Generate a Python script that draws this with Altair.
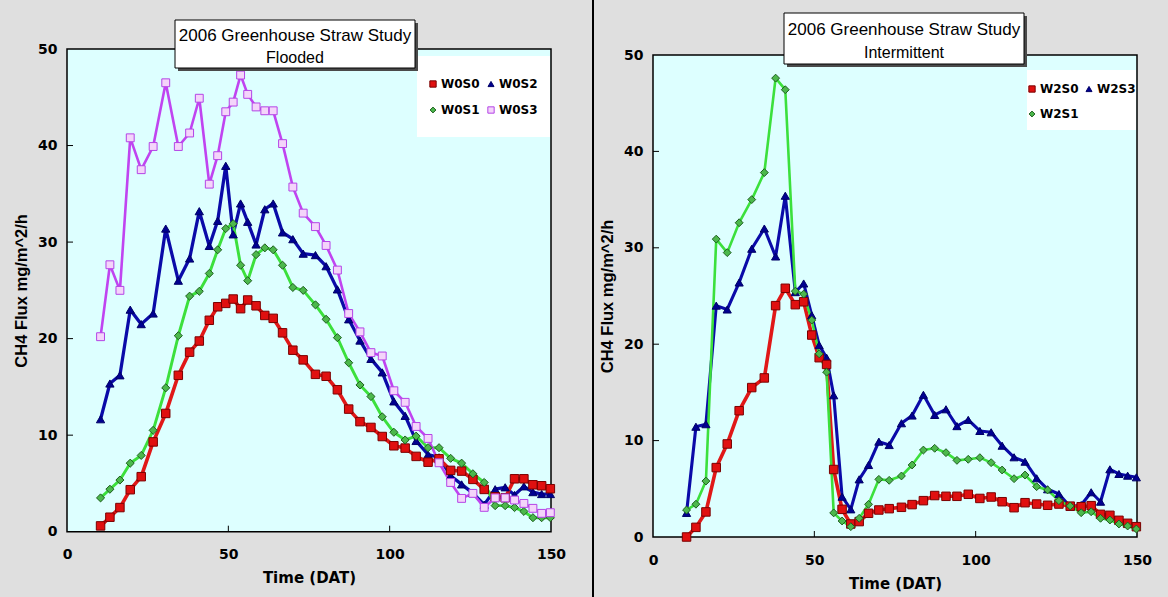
import altair as alt
import pandas as pd

# ---------------- data ----------------
T = [10.4, 13.3, 16.4, 19.6, 23.0, 26.7, 30.6, 34.5, 38.0, 41.0, 44.1, 46.7, 49.2, 51.5,
     53.8, 56.0, 58.6, 61.3, 63.9, 66.8, 70.0, 73.2, 77.0, 80.3, 83.8, 87.3, 90.8, 94.2,
     97.7, 101.3, 104.8, 108.2, 111.9, 115.3, 118.9, 122.3, 125.8, 129.3, 132.7, 135.8,
     138.7, 141.6, 144.4, 147.1, 149.8]

# Flooded panel
W0S0 = [0.6, 1.5, 2.5, 4.35, 5.7, 9.3, 12.25, 16.2, 18.6, 19.75, 21.9, 23.3, 23.65, 24.1,
        23.1, 24.0, 23.4, 22.4, 22.1, 20.6, 18.8, 17.8, 16.3, 16.1, 14.7, 12.7, 11.4, 10.8,
        9.86, 8.9, 8.66, 7.8, 7.2, 7.55, 6.35, 6.28, 5.42, 4.38, 3.62, 3.52, 5.48, 5.48,
        4.86, 4.76, 4.45]
W0S1 = [3.5, 4.4, 5.35, 7.1, 7.9, 10.5, 14.9, 20.3, 24.4, 24.9, 26.75, 29.2, 31.4, 31.9,
        27.6, 26.0, 28.7, 29.4, 29.2, 27.6, 25.3, 25.0, 23.5, 22.0, 20.1, 17.5, 15.2, 14.0,
        11.9, 10.3, 9.5, 9.9, 8.7, 8.7, 7.6, 7.1, 6.0, 5.1, 2.7, 2.7, 2.5, 2.1, 1.45, 1.45,
        1.45]
W0S2 = [11.65, 15.35, 16.2, 23.0, 21.5, 22.6, 31.4, 26.0, 28.3, 33.2, 29.6, 32.2, 37.9,
        30.8, 34.0, 32.1, 29.75, 33.4, 34.0, 31.0, 30.3, 28.8, 28.65, 27.5, 25.1, 22.0,
        19.8, 17.9, 16.5, 13.5, 12.0, 9.4, 8.0, 7.7, 5.8, 4.9, 4.0, 2.8, 4.4, 4.6, 3.8, 4.7,
        4.1, 3.9, 3.9]
W0S3 = [20.2, 27.65, 25.0, 40.8, 37.5, 39.9, 46.5, 39.9, 41.3, 44.9, 36.0, 38.95, 43.5,
        44.5, 47.3, 45.3, 44.0, 43.6, 43.6, 40.2, 35.7, 33.0, 31.6, 29.65, 27.1, 22.6, 20.7,
        18.55, 18.2, 14.6, 13.4, 10.9, 9.66, 7.14, 5.1, 3.45, 3.97, 2.52, 3.5, 3.5, 3.28,
        2.93, 2.42, 1.9, 1.97]

# Intermittent panel
W2S0 = [0.0, 1.0, 2.6, 7.2, 9.65, 13.1, 15.5, 16.5, 24.0, 25.8, 24.1, 24.4, 20.95, 18.6,
        17.9, 7.0, 2.87, 1.35, 1.6, 2.46, 2.8, 2.94, 3.08, 3.36, 3.77, 4.3, 4.22, 4.22, 4.43,
        4.0, 4.15, 3.66, 3.04, 3.56, 3.42, 3.29, 3.42, 3.2, 3.14, 3.25, 2.35, 2.25, 1.73,
        1.42, 1.07]
W2S1 = [2.8, 3.4, 5.8, 30.9, 29.5, 32.6, 35.0, 37.8, 47.6, 46.4, 25.5, 25.2, 22.5, 19.0,
        17.1, 2.5, 1.66, 1.07, 1.94, 3.39, 5.98, 5.88, 6.33, 7.47, 9.02, 9.2, 8.75, 7.95,
        8.06, 8.23, 7.71, 6.95, 6.05, 6.43, 5.22, 4.88, 3.77, 3.22, 2.52, 2.62, 1.94, 1.76,
        1.35, 1.14, 0.83]
W2S3 = [2.5, 11.44, 11.7, 24.0, 23.6, 26.4, 29.9, 32.0, 29.1, 35.4, 25.4, 26.3, 23.0, 19.9,
        18.6, 14.7, 4.18, 2.87, 5.98, 7.47, 9.89, 9.54, 11.8, 12.6, 14.75, 12.66, 13.25,
        11.5, 12.15, 11.0, 10.86, 9.47, 8.27, 7.81, 6.09, 4.95, 4.46, 3.14, 3.32, 4.64,
        3.66, 7.02, 6.54, 6.36, 6.19]

Y_TICKS = [0, 10, 20, 30, 40, 50]
X_TICKS = [0, 50, 100, 150]
INNER_Y_TICKS = [10, 20, 30, 40]
INNER_X_TICKS = [50, 100]

TITLE_MAIN = "2006 Greenhouse Straw Study"
TITLE_LEFT = "Flooded"
TITLE_RIGHT = "Intermittent"
X_TITLE = "Time (DAT)"
Y_TITLE = "CH4 Flux mg/m^2/h"

# ---------------- styles ----------------
W, H = 1168, 597
BG = "#DFDFDF"
PLOT_BG = "#DDFFFF"
TICK_LEN = 6
LAB_FONT = "DejaVu Sans"
TXT_FONT = "Liberation Sans"

STYLE = {
    "red":    dict(line="#E01818", width=3.6, shape="square", fill="#E01010", stroke="#7A0000", size=72, lsize=40),
    "green":  dict(line="#3CE03C", width=3.0, shape="diamond", fill="#4CB84C", stroke="#1E5E1E", size=50, lsize=34),
    "navy":   dict(line="#0A0AA8", width=2.6, shape="triangle-up", fill="#000090", stroke="#000066", size=62, lsize=36),
    "purple": dict(line="#C044F0", width=4.0, shape="square", fill="#F4D4FA", stroke="#B444E6", size=70, lsize=40),
}

ONE = pd.DataFrame({"k": [0]})


def panel(values, draw_order, legend_order, kinds, xr, yr, legend_xy, legend_step, legend_box):
    rows = []
    for name in draw_order:
        for t, v in zip(T, values[name]):
            rows.append({"t": t, "flux": v, "series": name})
    df = pd.DataFrame(rows)

    xs = alt.Scale(domain=[X_TICKS[0], X_TICKS[-1]], range=xr, nice=False, zero=False)
    ys = alt.Scale(domain=[Y_TICKS[0], Y_TICKS[-1]], range=yr, nice=False, zero=False)
    xaxis = alt.Axis(orient="bottom", offset=yr[0] - H, values=X_TICKS, ticks=False,
                     domain=False, grid=False, labelFont=LAB_FONT, labelFontWeight="bold",
                     labelFontSize=14, labelColor="black", labelPadding=16, labelFlush=False,
                     title=X_TITLE, titleFont=LAB_FONT, titleFontWeight="bold",
                     titleFontSize=15, titleColor="black", titlePadding=9)
    yaxis = alt.Axis(orient="left", offset=-xr[0], values=Y_TICKS, ticks=False,
                     domain=False, grid=False, labelFont=LAB_FONT, labelFontWeight="bold",
                     labelFontSize=14, labelColor="black", labelPadding=10, labelFlush=False,
                     title=Y_TITLE, titleFont=TXT_FONT, titleFontWeight="bold",
                     titleFontSize=16.5, titleColor="black", titlePadding=8)

    sty = [STYLE[kinds[s]] for s in legend_order]

    frame = alt.Chart(ONE).mark_rect(fill=PLOT_BG, stroke="black", strokeWidth=1.5).encode(
        x=alt.XDatum(X_TICKS[0], type="quantitative", scale=xs, axis=xaxis),
        x2=alt.X2Datum(X_TICKS[-1]),
        y=alt.YDatum(Y_TICKS[0], type="quantitative", scale=ys, axis=yaxis),
        y2=alt.Y2Datum(Y_TICKS[-1]),
    )
    ytick = alt.Chart(pd.DataFrame({"v": INNER_Y_TICKS})).mark_rule(
        color="black", strokeWidth=1).encode(
        y=alt.Y("v:Q", scale=ys, axis=yaxis),
        x=alt.value(xr[0]), x2=alt.value(xr[0] + TICK_LEN))
    xtick = alt.Chart(pd.DataFrame({"v": INNER_X_TICKS})).mark_rule(
        color="black", strokeWidth=1).encode(
        x=alt.X("v:Q", scale=xs, axis=xaxis),
        y=alt.value(yr[0]), y2=alt.value(yr[0] - TICK_LEN))

    lines = alt.Chart(df).mark_line(strokeJoin="round", strokeCap="round").encode(
        x=alt.X("t:Q", scale=xs, axis=xaxis),
        y=alt.Y("flux:Q", scale=ys, axis=yaxis),
        color=alt.Color("series:N", scale=alt.Scale(domain=legend_order,
                        range=[s["line"] for s in sty]), legend=None),
        strokeWidth=alt.StrokeWidth("series:N", scale=alt.Scale(domain=legend_order,
                                    range=[s["width"] for s in sty]), legend=None),
    )
    points = alt.Chart(df).mark_point(filled=True, opacity=1, strokeWidth=1).encode(
        x=alt.X("t:Q", scale=xs, axis=xaxis),
        y=alt.Y("flux:Q", scale=ys, axis=yaxis),
        shape=alt.Shape("series:N", scale=alt.Scale(domain=legend_order,
                        range=[s["shape"] for s in sty]), legend=None),
        fill=alt.Fill("series:N", scale=alt.Scale(domain=legend_order,
                      range=[s["fill"] for s in sty]), legend=None),
        stroke=alt.Stroke("series:N", scale=alt.Scale(domain=legend_order,
                          range=[s["stroke"] for s in sty]), legend=None),
        size=alt.Size("series:N", scale=alt.Scale(domain=legend_order,
                      range=[s["size"] for s in sty]), legend=None),
    )
    layers = [frame, ytick, xtick, lines, points]

    # legend (white box with two columns of entries)
    layers.append(alt.Chart(ONE).mark_rect(fill="white").encode(
        x=alt.value(legend_box[0]), x2=alt.value(legend_box[2]),
        y=alt.value(legend_box[1]), y2=alt.value(legend_box[3])))
    for i, (name, s) in enumerate(zip(legend_order, sty)):
        mx = legend_xy[0] + (i % 2) * legend_step[0]
        my = legend_xy[1] + (i // 2) * legend_step[1]
        layers.append(alt.Chart(ONE).mark_point(
            shape=s["shape"], filled=True, fill=s["fill"], stroke=s["stroke"], strokeWidth=1,
            size=s["lsize"], opacity=1).encode(x=alt.value(mx), y=alt.value(my)))
        layers.append(alt.Chart(ONE).mark_text(
            text=name, font=LAB_FONT, fontWeight="bold", fontSize=12, align="left",
            baseline="middle", color="black").encode(x=alt.value(mx + 8), y=alt.value(my)))
    return alt.layer(*layers)


def title_box(x1, y1, x2, y2, line2, base1, base2):
    cx = (x1 + x2) / 2
    shadow = alt.Chart(ONE).mark_rect(fill="#4A4A4A").encode(
        x=alt.value(x1 + 3), x2=alt.value(x2 + 3), y=alt.value(y1 + 3), y2=alt.value(y2 + 3))
    box = alt.Chart(ONE).mark_rect(fill="white", stroke="black", strokeWidth=1).encode(
        x=alt.value(x1), x2=alt.value(x2), y=alt.value(y1), y2=alt.value(y2))
    t1 = alt.Chart(ONE).mark_text(text=TITLE_MAIN, font=TXT_FONT, fontSize=17, align="center",
                                  baseline="alphabetic", color="black").encode(
        x=alt.value(cx), y=alt.value(base1))
    t2 = alt.Chart(ONE).mark_text(text=line2, font=TXT_FONT, fontSize=16, align="center",
                                  baseline="alphabetic", color="black").encode(
        x=alt.value(cx), y=alt.value(base2))
    return [shadow, box, t1, t2]


left = panel({"W0S0": W0S0, "W0S1": W0S1, "W0S2": W0S2, "W0S3": W0S3},
             draw_order=["W0S2", "W0S0", "W0S1", "W0S3"],
             legend_order=["W0S0", "W0S2", "W0S1", "W0S3"],
             kinds={"W0S0": "red", "W0S1": "green", "W0S2": "navy", "W0S3": "purple"},
             xr=[67, 551], yr=[531.7, 49], legend_xy=[433, 84], legend_step=[58, 26],
             legend_box=[417, 56, 550, 137])

right = panel({"W2S0": W2S0, "W2S1": W2S1, "W2S3": W2S3},
              draw_order=["W2S3", "W2S0", "W2S1"],
              legend_order=["W2S0", "W2S3", "W2S1"],
              kinds={"W2S0": "red", "W2S1": "green", "W2S3": "navy"},
              xr=[653, 1137], yr=[537, 55], legend_xy=[1032, 89], legend_step=[57, 25],
              legend_box=[1027, 70, 1136, 130])

sep = alt.Chart(ONE).mark_rule(color="black", strokeWidth=2).encode(
    x=alt.value(593), y=alt.value(0), y2=alt.value(H))

deco = title_box(175, 20, 415, 68, TITLE_LEFT, 40.7, 62.5) + \
    title_box(784, 13, 1024, 64, TITLE_RIGHT, 35, 57.5) + [sep]

chart = alt.layer(left, right, *deco).resolve_scale(
    x="independent", y="independent", color="independent", fill="independent",
    stroke="independent", shape="independent", size="independent",
    strokeWidth="independent",
).resolve_axis(x="independent", y="independent").properties(
    width=W, height=H, autosize=alt.AutoSizeParams(type="none"), padding=0, background=BG,
).configure_view(stroke="transparent")

chart.save("out.html", embed_options={"renderer": "svg", "actions": False})
